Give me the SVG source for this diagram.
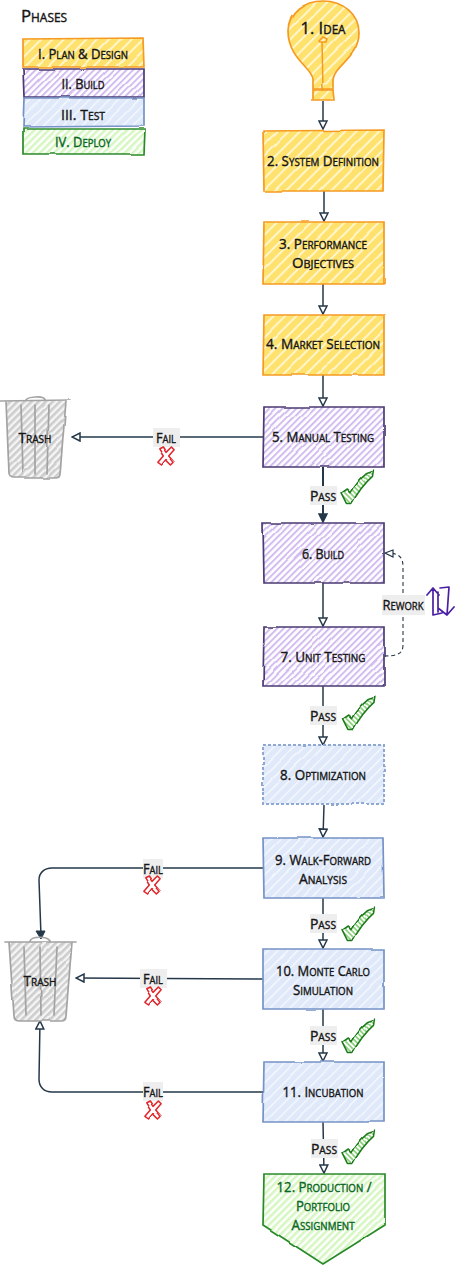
<svg xmlns="http://www.w3.org/2000/svg" width="455" height="1265" viewBox="0 0 455 1265">
<style>
text{font-family:"Open Sans","Liberation Sans",sans-serif;font-variant:small-caps;font-weight:500;font-size:15px;text-anchor:middle;fill:#161616;stroke:#161616;stroke-width:.4}
.g{fill:#0b6623;stroke:#0b6623}
.y{fill:url(#hy);stroke:#f59a23;stroke-width:1.7;filter:url(#r)}
.p{fill:url(#hp);stroke:#4b3a73;stroke-width:1.7;filter:url(#r)}
.b{fill:url(#hb);stroke:#7593c6;stroke-width:1.7;filter:url(#r)}
.n{fill:url(#hn);stroke:#2b8a2b;stroke-width:1.7;filter:url(#r)}
.t{fill:url(#ht);stroke:none;filter:url(#r)}
.s{fill:none;stroke-linecap:round;filter:url(#r)}
.c{fill:none;stroke:#24384a;stroke-width:1.5}
.lb{fill:#eeeeee}
.ck{fill:url(#hck);stroke:#1d7a1d;stroke-width:1.7;stroke-linejoin:round;filter:url(#r)}
.x{fill:#fff;stroke:#e0262b;stroke-width:1.7;stroke-linejoin:round;filter:url(#r)}
</style>
<defs>
<filter id="r" x="-10%" y="-10%" width="120%" height="120%"><feTurbulence type="fractalNoise" baseFrequency="0.035" numOctaves="2" seed="4"/><feDisplacementMap in="SourceGraphic" scale="2.4" xChannelSelector="R" yChannelSelector="G"/></filter>
<pattern id="hy" width="8" height="8" patternUnits="userSpaceOnUse" patternTransform="rotate(45)"><rect width="8" height="8" fill="#ffe26e"/><rect width="2" height="8" fill="#fff5cc"/></pattern>
<pattern id="hp" width="4.6" height="4.6" patternUnits="userSpaceOnUse" patternTransform="rotate(45)"><rect width="4.6" height="4.6" fill="#fff"/><rect width="2" height="4.6" fill="#d3bdf0"/></pattern>
<pattern id="hb" width="7" height="7" patternUnits="userSpaceOnUse" patternTransform="rotate(45)"><rect width="7" height="7" fill="#dfe9f9"/><rect width="1.4" height="7" fill="#f6f9fe"/></pattern>
<pattern id="hn" width="5" height="5" patternUnits="userSpaceOnUse" patternTransform="rotate(45)"><rect width="5" height="5" fill="#fff"/><rect width="2.6" height="5" fill="#d6f7c2"/></pattern>
<pattern id="ht" width="5" height="5" patternUnits="userSpaceOnUse" patternTransform="rotate(45)"><rect width="5" height="5" fill="#f5f5f5"/><rect width="2.6" height="5" fill="#cdcdcd"/></pattern>
<pattern id="hck" width="4" height="4" patternUnits="userSpaceOnUse" patternTransform="rotate(-45)"><rect width="4" height="4" fill="#fff"/><rect width="2" height="4" fill="#8fd27f"/></pattern>
<marker id="a" viewBox="0 0 10 10" refX="9" refY="5" markerWidth="10" markerHeight="10" markerUnits="userSpaceOnUse" orient="auto"><path d="M1 1L9 5L1 9Z" fill="#fff" stroke="#24384a" stroke-width="1.5"/></marker>
<marker id="af" viewBox="0 0 10 10" refX="9" refY="5" markerWidth="10" markerHeight="10" markerUnits="userSpaceOnUse" orient="auto"><path d="M1 1L9 5L1 9Z" fill="#24384a" stroke="#24384a" stroke-width="1.5"/></marker>
<path id="check" d="M-15 -1L-9 -5L-5 -1C0 -10 7 -18 13 -23L21 -26L20 -19C12 -12 4 -2 -3 11L-9 11Z" transform="scale(.9)"/>
<path id="cross" d="M-8 -8L-4 -10L0 -4L6 -10L9 -7L3 0L9 7L6 10L0 4L-5 10L-9 7L-3 0Z" transform="scale(.9)"/>
</defs>

<g id="connectors">
<path class="c" marker-end="url(#a)" d="M323 101L323 129"/>
<path class="c" marker-end="url(#a)" d="M324 191L324 221"/>
<path class="c" marker-end="url(#a)" d="M323 284L323 314"/>
<path class="c" marker-end="url(#a)" d="M323 375L323 406"/>
<path class="c" marker-end="url(#a)" d="M263 437L72 437"/>
<path class="c" marker-end="url(#af)" style="stroke-width:2" d="M323 467L323 522"/>
<path class="c" marker-end="url(#a)" d="M323 583L323 626"/>
<path class="c" stroke-dasharray="4 3" style="stroke-width:1.1" d="M384 656C397 656 403 654 403 645L403 567C403 556 398 553 386 553"/>
<path d="M393 550L385 553L393 557Z" fill="#fff" stroke="#24384a" stroke-width="1.2"/>
<path class="c" marker-end="url(#a)" d="M323 686L323 745"/>
<path class="c" marker-end="url(#a)" d="M324 805L323 837"/>
<path class="c" d="M263 868L52 868C44 868 39 873 39 880L41 936"/><path d="M36 931L41 939L45 931Z" fill="#24384a" stroke="#24384a"/>
<path class="c" marker-end="url(#a)" d="M323 898L323 948"/>
<path class="c" marker-end="url(#a)" d="M263 979L76 978"/>
<path class="c" marker-end="url(#a)" d="M323 1009L323 1061"/>
<path class="c" marker-end="url(#a)" d="M263 1092L52 1092C44 1092 39 1087 39 1079L40 1021"/>
<path class="c" marker-end="url(#a)" d="M323 1122L324 1173"/>
</g>

<g id="legend">
<text x="44" y="22" style="font-size:17px" textLength="46" lengthAdjust="spacingAndGlyphs">Phases</text>
<g id="legend-plan"><path class="y" d="M23 39L143 38L144 67L23 67Z"/><text x="83" y="59" textLength="90" lengthAdjust="spacingAndGlyphs">I. Plan &amp; Design</text></g>
<g id="legend-build"><path class="p" d="M23 69L144 69L144 97L24 97Z"/><text x="83" y="89" textLength="43" lengthAdjust="spacingAndGlyphs">II. Build</text></g>
<g id="legend-test"><path class="b" d="M24 98L144 98L144 126L23 127Z"/><text x="83" y="120" textLength="44" lengthAdjust="spacingAndGlyphs">III. Test</text></g>
<g id="legend-deploy"><path class="n" d="M23 129L145 129L144 154L23 154Z"/><text class="g" x="83" y="147" textLength="56" lengthAdjust="spacingAndGlyphs">IV. Deploy</text></g>
</g>

<g id="n1"><path class="y" d="M313 89L313 79C312 68 288 58 288 31C288 13 304 1 323 1C343 1 359 14 359 33C359 57 334 66 333 80L333 89Z"/><path class="y" d="M313 90L333 90L334 100L313 100Z"/><path class="s" stroke="#f59a23" stroke-width="1.5" d="M323 90L322 42M319 41L323 37L327 39L326 42L320 42Z"/><text x="323" y="34" style="font-size:17px" textLength="45" lengthAdjust="spacingAndGlyphs">1. Idea</text></g>
<g id="n2"><path class="y" d="M263 131L384 130L383 191L264 191Z"/><text x="323" y="166" textLength="112" lengthAdjust="spacingAndGlyphs">2. System Definition</text></g>
<g id="n3"><path class="y" d="M264 222L384 222L384 284L263 284Z"/><text x="323" y="249" textLength="88" lengthAdjust="spacingAndGlyphs">3. Performance</text><text x="323" y="268" textLength="62" lengthAdjust="spacingAndGlyphs">Objectives</text></g>
<g id="n4"><path class="y" d="M264 315L384 315L384 375L263 375Z"/><text x="323" y="349" textLength="114" lengthAdjust="spacingAndGlyphs">4. Market Selection</text></g>
<g id="n5"><path class="p" d="M264 407L384 407L384 467L263 467Z"/><text x="323" y="442" textLength="102" lengthAdjust="spacingAndGlyphs">5. Manual Testing</text></g>
<g id="n6"><path class="p" d="M263 523L384 523L384 583L264 583Z"/><text x="323" y="559" textLength="42" lengthAdjust="spacingAndGlyphs">6. Build</text></g>
<g id="n7"><path class="p" d="M264 627L384 627L384 686L263 686Z"/><text x="323" y="662" textLength="85" lengthAdjust="spacingAndGlyphs">7. Unit Testing</text></g>
<g id="n8"><path class="b" stroke-dasharray="3 2" style="stroke-width:2;stroke:#8ea8d2" d="M263 745L384 745L384 804L263 804Z"/><text x="323" y="780" textLength="86" lengthAdjust="spacingAndGlyphs">8. Optimization</text></g>
<g id="n9"><path class="b" d="M263 838L383 838L384 898L264 898Z"/><text x="323" y="865" textLength="96" lengthAdjust="spacingAndGlyphs">9. Walk-Forward</text><text x="323" y="884" textLength="48" lengthAdjust="spacingAndGlyphs">Analysis</text></g>
<g id="n10"><path class="b" d="M263 949L384 949L384 1009L263 1009Z"/><text x="323" y="976" textLength="94" lengthAdjust="spacingAndGlyphs">10. Monte Carlo</text><text x="323" y="995" textLength="60" lengthAdjust="spacingAndGlyphs">Simulation</text></g>
<g id="n11"><path class="b" d="M264 1062L384 1062L384 1122L263 1122Z"/><text x="323" y="1097" textLength="81" lengthAdjust="spacingAndGlyphs">11. Incubation</text></g>
<g id="n12"><path class="n" d="M264 1174L385 1174L385 1225L323 1264L263 1225Z"/><text class="g" x="324" y="1192" textLength="95" lengthAdjust="spacingAndGlyphs">12. Production /</text><text class="g" x="323" y="1211" textLength="54" lengthAdjust="spacingAndGlyphs">Portfolio</text><text class="g" x="323" y="1230" textLength="63" lengthAdjust="spacingAndGlyphs">Assignment</text></g>

<g id="trash1"><path class="t" d="M6 401L66 401L60 474C60 477 58 478 55 478L14 478C11 478 9 476 9 474Z"/><path class="s" stroke="#a3a3a3" stroke-width="1.7" d="M6 401L9 474C9 476 11 478 14 478L55 478C58 478 60 477 60 474L66 401M0 401L70 400M26 400C27 397 44 395 45 400M21 405L23 473M35 405L35 474M49 405L47 473"/><text x="35" y="443" textLength="33" lengthAdjust="spacingAndGlyphs">Trash</text></g>
<g id="trash2"><path class="t" d="M9 942L72 942L66 1016C66 1019 64 1021 61 1021L20 1021C16 1021 14 1019 14 1016Z"/><path class="s" stroke="#a3a3a3" stroke-width="1.7" d="M9 942L14 1016C14 1019 16 1021 20 1021L61 1021C64 1021 66 1019 66 1016L72 942M5 942L76 942M30 941C32 936 47 936 50 941M24 947L26 1015M40 947L41 1015M57 947L54 1015"/><text x="40" y="986" textLength="33" lengthAdjust="spacingAndGlyphs">Trash</text></g>

<g id="labels">
<g><rect class="lb" x="153" y="428" width="27" height="19"/><text x="166" y="443" textLength="20" lengthAdjust="spacingAndGlyphs">Fail</text></g>
<use href="#cross" class="x" transform="translate(166 456)"/>
<g><rect class="lb" x="310" y="486" width="27" height="19"/><text x="323" y="501" textLength="26" lengthAdjust="spacingAndGlyphs">Pass</text></g>
<use href="#check" class="ck" transform="translate(354.500 493.500)"/>
<g><rect class="lb" x="382" y="595" width="43" height="20"/><text x="403" y="610" textLength="41" lengthAdjust="spacingAndGlyphs">Rework</text></g>
<path fill="none" stroke="#4b1fa3" stroke-width="1.7" stroke-linecap="round" stroke-linejoin="round" d="M427 595L433 588L439 595M433 588L433 615L442 613M438 592L438 612M440 588L449 587L447 615L438 608M447 615L454 607"/>
<g><rect class="lb" x="310" y="706" width="27" height="19"/><text x="323" y="721" textLength="26" lengthAdjust="spacingAndGlyphs">Pass</text></g>
<use href="#check" class="ck" transform="translate(356 719.500)"/>
<g><rect class="lb" x="143" y="859" width="20" height="19"/><text x="153" y="874" textLength="20" lengthAdjust="spacingAndGlyphs">Fail</text></g>
<use href="#cross" class="x" transform="translate(152 885)"/>
<g><rect class="lb" x="310" y="914" width="27" height="19"/><text x="323" y="929" textLength="26" lengthAdjust="spacingAndGlyphs">Pass</text></g>
<use href="#check" class="ck" transform="translate(355.500 930.500)"/>
<g><rect class="lb" x="140" y="969" width="27" height="19"/><text x="153" y="984" textLength="20" lengthAdjust="spacingAndGlyphs">Fail</text></g>
<use href="#cross" class="x" transform="translate(153 996)"/>
<g><rect class="lb" x="310" y="1026" width="27" height="19"/><text x="323" y="1041" textLength="26" lengthAdjust="spacingAndGlyphs">Pass</text></g>
<use href="#check" class="ck" transform="translate(355.500 1042.500)"/>
<g><rect class="lb" x="143" y="1082" width="20" height="19"/><text x="153" y="1097" textLength="20" lengthAdjust="spacingAndGlyphs">Fail</text></g>
<use href="#cross" class="x" transform="translate(153 1110)"/>
<g><rect class="lb" x="311" y="1139" width="27" height="19"/><text x="324" y="1154" textLength="26" lengthAdjust="spacingAndGlyphs">Pass</text></g>
<use href="#check" class="ck" transform="translate(355.500 1153.500)"/>
</g>
</svg>
